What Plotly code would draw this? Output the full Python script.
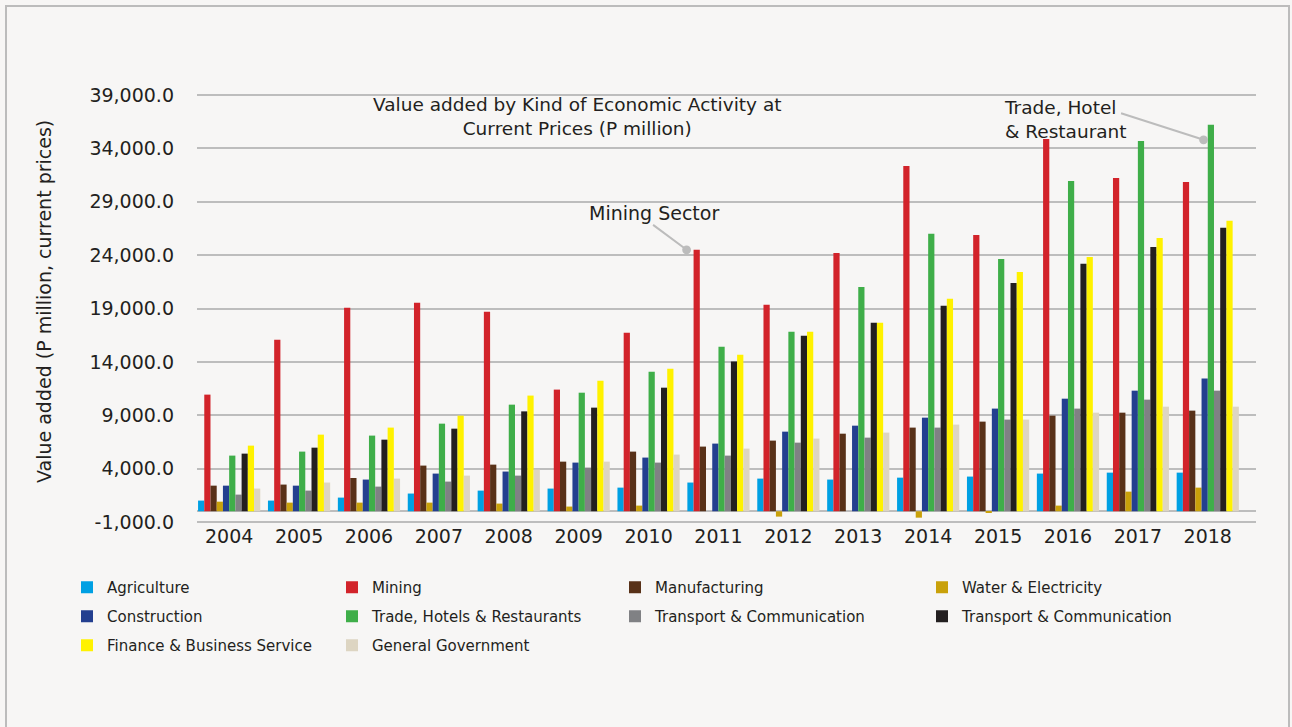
import plotly.graph_objects as go

# Value added by kind of economic activity, current prices (P million)
years = ["2004", "2005", "2006", "2007", "2008", "2009", "2010", "2011",
         "2012", "2013", "2014", "2015", "2016", "2017", "2018"]

agriculture = [1000, 1000, 1280, 1660, 1935, 2125, 2215, 2690, 3060, 2970,
               3150, 3250, 3530, 3620, 3620]
mining = [10930, 16080, 19070, 19540, 18700, 11400, 16730, 24500, 19350,
          24200, 32350, 25890, 34880, 31230, 30850]
manufacturing = [2400, 2500, 3120, 4280, 4370, 4650, 5590, 6060, 6620, 7270,
                 7840, 8400, 8960, 9240, 9430]
water_electricity = [900, 810, 810, 810, 720, 440, 530, 0, -500, 0,
                     -600, -100, 530, 1840, 2215]
construction = [2400, 2400, 2970, 3530, 3720, 4560, 5030, 6340, 7460, 8020,
                8770, 9620, 10550, 11300, 12430]
trade_hotels = [5215, 5590, 7090, 8210, 9990, 11110, 13080, 15420, 16820,
                21020, 26000, 23640, 30940, 34700, 36210]
transport_comm_a = [1560, 1935, 2310, 2780, 3340, 4090, 4560, 5215, 6430,
                    6900, 7840, 8590, 9620, 10460, 11300]
transport_comm_b = [5400, 5960, 6710, 7740, 9360, 9710, 11580, 14040, 16450,
                    17670, 19260, 21400, 23200, 24770, 26560]
finance_business = [6150, 7180, 7840, 8960, 10840, 12240, 13360, 14670, 16820,
                    17670, 19920, 22430, 23830, 25610, 27220]
general_government = [2125, 2690, 3060, 3340, 3900, 4650, 5310, 5870, 6810,
                      7370, 8120, 8590, 9240, 9800, 9800]

y_ticks = [-1000, 4000, 9000, 14000, 19000, 24000, 29000, 34000, 39000]

series_names = ["Agriculture", "Mining", "Manufacturing", "Water & Electricity",
                "Construction", "Trade, Hotels & Restaurants",
                "Transport & Communication", "Transport & Communication",
                "Finance & Business Service", "General Government"]
series_values = [agriculture, mining, manufacturing, water_electricity,
                 construction, trade_hotels, transport_comm_a, transport_comm_b,
                 finance_business, general_government]
series_colors = ["#00a0e3", "#d2232a", "#583118", "#c9a10a", "#233f8f",
                 "#3fae49", "#808184", "#231f20", "#fff200", "#ddd5c2"]
# legend column for each series
series_legend = ["legend", "legend2", "legend3", "legend4",
                 "legend", "legend2", "legend3", "legend4",
                 "legend", "legend2"]

TEXT = "#231f20"
FONT = "DejaVu Sans"
BG = "#f7f6f5"
GRID = "#bdbdbd"

W, H = 1292, 727
ML, MR, MT, MB = 197, 36, 94, 204
PW, PH = W - ML - MR, H - MT - MB


def px_x(p):
    return (p - ML) / PW


def px_y(p):
    return (H - MB - p) / PH


BARGAP = 0.11
N = len(series_names)

fig = go.Figure()
for i, (name, vals, col, lg) in enumerate(zip(series_names, series_values,
                                              series_colors, series_legend)):
    fig.add_trace(go.Bar(
        x=years, y=vals, name=name, marker=dict(color=col, line=dict(width=0)),
        legend=lg, legendgroup=f"s{i}",
    ))


def bar_left(cat_idx, series_idx):
    w = (1 - BARGAP) / N
    return cat_idx - (1 - BARGAP) / 2 + series_idx * w


def label_font(size=19):
    return dict(size=size, color=TEXT, family=FONT)


annotations = [
    dict(text="Value added by Kind of Economic Activity at<br>Current Prices (P million)",
         xref="paper", yref="paper", x=px_x(577), y=px_y(117),
         xanchor="center", yanchor="middle",
         showarrow=False, font=label_font(18.5)),
    dict(text="Mining Sector", xref="paper", yref="paper",
         x=px_x(654), y=px_y(213), xanchor="center", yanchor="middle",
         showarrow=False, font=label_font(19)),
    dict(text="Trade, Hotel<br>& Restaurant", xref="paper", yref="paper",
         x=px_x(1002), y=px_y(120), xanchor="left", yanchor="middle",
         align="left", showarrow=False, font=label_font(18.5)),
    # pointer to the 2011 mining bar
    dict(text="", x=bar_left(years.index("2011"), 1) - 0.1,
         y=mining[years.index("2011")], xref="x", yref="y",
         showarrow=True, arrowhead=6, arrowsize=1.1, arrowwidth=2,
         arrowcolor="#bcbcbc", ax=-35, ay=-26),
    # pointer to the 2018 trade bar
    dict(text="", x=bar_left(years.index("2018"), 5) - 0.06,
         y=trade_hotels[years.index("2018")] - 1400, xref="x", yref="y",
         showarrow=True, arrowhead=6, arrowsize=1.1, arrowwidth=2,
         arrowcolor="#bcbcbc", ax=-84, ay=-27),
    dict(text="Value added (P million, current prices)", xref="paper",
         yref="paper", x=px_x(44), y=px_y(302), textangle=-90,
         xanchor="center", yanchor="middle",
         showarrow=False, font=label_font(19)),
]

legend_common = dict(orientation="v", xanchor="left", yanchor="top",
                     y=px_y(571),
                     bgcolor="rgba(0,0,0,0)", tracegroupgap=6.5,
                     font=dict(size=15, color=TEXT, family=FONT),
                     itemclick=False, itemdoubleclick=False)

fig.update_layout(
    width=W, height=H,
    margin=dict(l=ML, r=MR, t=MT, b=MB, pad=0),
    paper_bgcolor=BG, plot_bgcolor=BG,
    barmode="group", bargap=BARGAP, bargroupgap=0,
    showlegend=True,
    legend=dict(legend_common, x=px_x(67)),
    legend2=dict(legend_common, x=px_x(332)),
    legend3=dict(legend_common, x=px_x(615)),
    legend4=dict(legend_common, x=px_x(922)),
    font=dict(family=FONT, color=TEXT),
    xaxis=dict(type="category", range=[-0.46, 14.69], showgrid=False,
               showline=False, zeroline=False, ticks="",
               tickfont=label_font(19)),
    yaxis=dict(range=[-1100, 39100], tickmode="array", tickvals=y_ticks,
               ticktext=[f"{v:,.1f}" for v in y_ticks],
               showgrid=True, gridcolor=GRID, gridwidth=2,
               zeroline=True, zerolinecolor=GRID, zerolinewidth=2,
               showline=False, ticks="", ticklabelstandoff=22,
               tickfont=label_font(19)),
    annotations=annotations,
    shapes=[dict(type="rect", xref="paper", yref="paper",
                 x0=px_x(6), x1=px_x(1289), y0=px_y(760), y1=px_y(6),
                 line=dict(color="#bcbcbc", width=2), fillcolor="rgba(0,0,0,0)",
                 layer="below")],
)

fig.write_html("out.html")
